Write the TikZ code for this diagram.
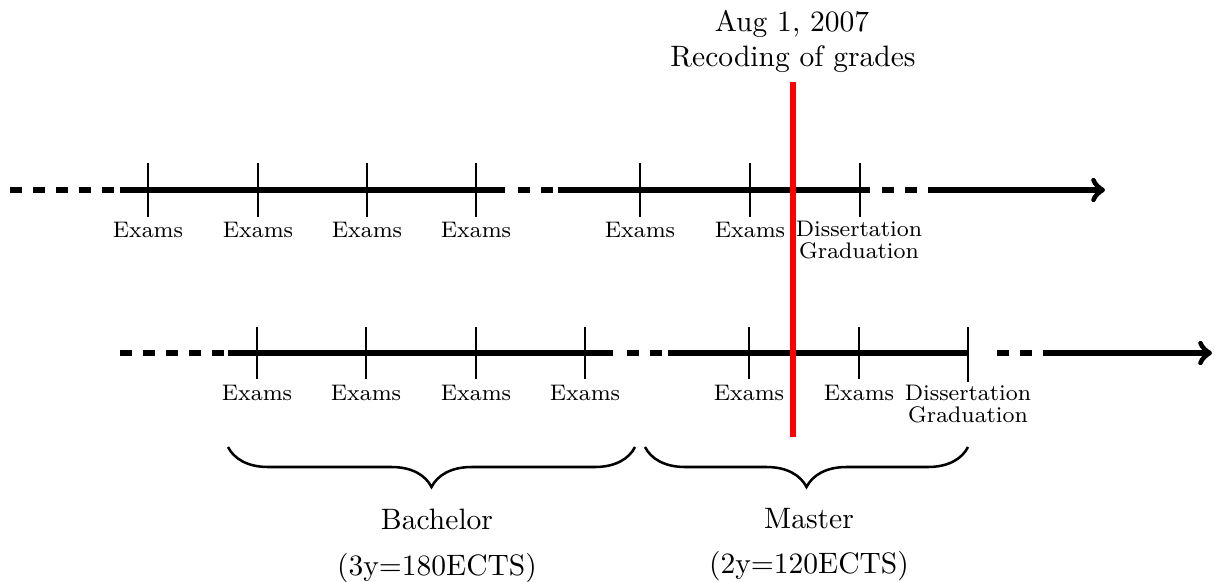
\documentclass[tikz,border=0pt]{standalone}
\usetikzlibrary{decorations.pathreplacing}

\tikzset{
  axis/.style={line width=2pt},
  gapline/.style={line width=2pt, dash pattern=on 4.3pt off 3.9pt},
  tickmark/.style={line width=0.9pt},
  small/.style={font=\fontsize{8}{9}\selectfont, anchor=base, inner sep=0pt},
  big/.style={font=\fontsize{10.5}{12}\selectfont, anchor=base, inner sep=0pt},
  span/.style={decorate, decoration={brace, mirror, amplitude=0.5cm}, line width=0.9pt}
}

\begin{document}
\begin{tikzpicture}[x=0.0125cm, y=-0.0125cm]
\useasboundingbox (0,0) rectangle (1215,582);

% old path (upper line)
\draw [gapline] (10,190) -- (120,190);
\draw [axis] (120,190) -- (505,190);
\draw [gapline] (518,190) -- (556,190);
\draw [axis] (558,190) -- (870,190);
\draw [gapline] (882,190) -- (940,190);
\draw [axis, ->] (940,190) -- (1105,190);
\foreach \x/\n in {148/1,258/2,367/3,476/4,640/5,750/6} {
  \draw [tickmark] (\x,163) -- (\x,217);
  \node [small] (up\n) at (\x,238) {Exams};
}
\draw [tickmark] (860,163) -- (860,217);
\node [small] (updiss) at (859,237) {Dissertation};
\node [small] (upgrad) at (859,259) {Graduation};

% new path (lower line)
\draw [gapline] (120,353) -- (228,353);
\draw [axis] (228,353) -- (613,353);
\draw [gapline] (627,353) -- (664,353);
\draw [axis] (668,353) -- (968,353);
\draw [gapline] (997,353) -- (1050,353);
\draw [axis, ->] (1050,353) -- (1212,353);
\foreach \x/\n in {257/1,366/2,476/3,585/4,749/5,859/6} {
  \draw [tickmark] (\x,327) -- (\x,379);
  \node [small] (lo\n) at (\x,401) {Exams};
}
\draw [tickmark] (968,327) -- (968,382);
\node [small] (lodiss) at (968,401) {Dissertation};
\node [small] (lograd) at (968,423) {Graduation};

% recoding date
\draw [red, line width=2pt] (793,82) -- (793,437);
\node [big] (date) at (792,32) {Aug 1, 2007};
\node [big] (recode) at (793,67) {Recoding of grades};

% braces
\draw [span] (228,447) -- (635,447);
\draw [span] (645,447) -- (968,447);
\node [big] (bach) at (437,529) {Bachelor};
\node [big] (bachects) at (437,575) {(3y=180ECTS)};
\node [big] (mast) at (809,528) {Master};
\node [big] (mastects) at (809,573) {(2y=120ECTS)};
\end{tikzpicture}
\end{document}
